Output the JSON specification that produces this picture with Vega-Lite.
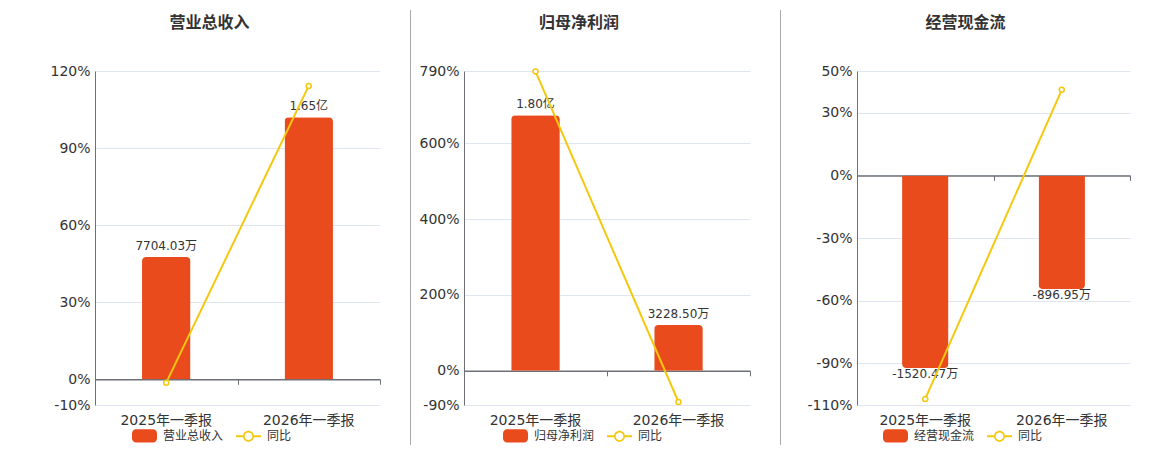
{
  "$schema": "https://vega.github.io/schema/vega-lite/v6.json",
  "background": "#ffffff",
  "padding": {"left": 0, "top": 9, "right": 0, "bottom": 0},
  "spacing": 0,
  "config": {
    "view": {"stroke": null},
    "font": "DejaVu Sans, Noto Sans CJK SC",
    "title": {"fontSize": 16, "fontWeight": "bold", "color": "#333333", "anchor": "middle", "dx": -28, "offset": 33, "font": "DejaVu Sans, Noto Sans CJK SC"},
    "axis": {"labelFont": "DejaVu Sans, Noto Sans CJK SC", "labelColor": "#333333", "titleColor": "#333333"},
    "legend": {"labelFont": "DejaVu Sans, Noto Sans CJK SC"}
  },
  "resolve": {"scale": {"color": "independent"}, "legend": {"color": "independent"}},
  "hconcat": [
    {
      "title": {"text": "营业总收入"},
      "width": 285,
      "height": 334,
      "data": {"values": [
        {"period": "2025年一季报", "value": 7704.03, "label": "7704.03万", "yoy": -1.3},
        {"period": "2026年一季报", "value": 16500, "label": "1.65亿", "yoy": 114.2}
      ]},
      "layer": [
        {
          "layer": [
            {
              "mark": {"type": "bar", "cornerRadiusEnd": 4, "width": {"band": 0.34}},
              "encoding": {
                "x": {"field": "period", "type": "nominal", "sort": null, "scale": {"paddingInner": 0, "paddingOuter": 0},
                  "axis": {"orient": "bottom", "title": null, "domain": false, "ticks": false, "grid": false, "labelAngle": 0, "labelFontSize": 14, "labelPadding": 8}},
                "y": {"field": "value", "type": "quantitative", "scale": {"domain": [-1618, 19416], "nice": false, "zero": false},
                  "axis": {"orient": "right", "title": null, "labels": false, "ticks": false, "domain": false, "grid": false, "minExtent": 30, "maxExtent": 30}},
                "color": {"datum": "营业总收入", "type": "nominal",
                  "scale": {"domain": ["营业总收入", "同比"], "range": ["#E94B1C", "#F4C80E"]},
                  "legend": {"title": null, "orient": "none", "legendX": 37, "legendY": 352, "direction": "horizontal", "padding": 0,
                    "symbolSize": 625, "labelFontSize": 12, "labelColor": "#333333", "labelOffset": 6, "columnPadding": 12,
                    "encode": {"symbols": {"update": {
                      "shape": {"signal": "datum.value === '同比' ? 'M-1,-0.08H-0.42V0.08H-1Z M0.42,-0.08H1V0.08H0.42Z M-0.44,0A0.44,0.44,0,1,1,0.44,0A0.44,0.44,0,1,1,-0.44,0Z M-0.31,0A0.31,0.31,0,1,0,0.31,0A0.31,0.31,0,1,0,-0.31,0Z' : 'M-0.68,-0.53H0.68A0.32,0.32,0,0,1,1,-0.21V0.21A0.32,0.32,0,0,1,0.68,0.53H-0.68A0.32,0.32,0,0,1,-1,0.21V-0.21A0.32,0.32,0,0,1,-0.68,-0.53Z'"},
                      "strokeWidth": {"value": 0},
                      "opacity": {"value": 1}
                    }}}}}
              }
            },
            {
              "mark": {"type": "text", "baseline": "bottom", "dy": -4, "fontSize": 12, "color": "#333333"},
              "encoding": {
                "x": {"field": "period", "type": "nominal", "sort": null},
                "y": {"field": "value", "type": "quantitative"},
                "text": {"field": "label"}
              }
            }
          ]
        },
        {
          "mark": {"type": "line", "strokeWidth": 2, "point": {"filled": false, "fill": "#ffffff", "size": 25, "strokeWidth": 1.5}},
          "encoding": {
            "x": {"field": "period", "type": "nominal", "sort": null,
              "axis": {"orient": "bottom", "title": null, "labels": false, "grid": false, "domain": true, "domainColor": "#6E7079", "domainWidth": 1.5, "ticks": true, "tickColor": "#6E7079", "tickSize": 5, "tickBand": "extent", "offset": -25.7}},
            "y": {"field": "yoy", "type": "quantitative", "scale": {"domain": [-10, 120], "nice": false, "zero": false},
              "axis": {"orient": "left", "title": null, "values": [-10, 0, 30, 60, 90, 120], "labelExpr": "datum.value + '%'", "grid": true, "gridColor": "#E0E6F1", "domain": true, "domainColor": "#6E7079", "ticks": false, "labelFontSize": 14, "labelPadding": 5, "minExtent": 95, "maxExtent": 95}},
            "color": {"datum": "同比", "type": "nominal"}
          }
        }
      ],
      "resolve": {"scale": {"y": "independent"}, "axis": {"x": "independent"}}
    },
    {
      "width": 1,
      "height": 334,
      "data": {"values": [{}]},
      "mark": {"type": "rule", "color": "#AAAAAA", "strokeWidth": 1},
      "encoding": {
        "x": {"datum": 0.5, "type": "quantitative", "scale": {"domain": [0, 1], "nice": false, "zero": false}, "axis": null},
        "y": {"datum": 1.1826, "type": "quantitative", "scale": {"domain": [0, 1], "nice": false, "zero": false}, "axis": null},
        "y2": {"datum": -0.1198}
      }
    },
    {
      "title": {"text": "归母净利润"},
      "width": 286,
      "height": 334,
      "data": {"values": [
        {"period": "2025年一季报", "value": 18000, "label": "1.80亿", "yoy": 789},
        {"period": "2026年一季报", "value": 3228.5, "label": "3228.50万", "yoy": -82.1}
      ]},
      "layer": [
        {
          "layer": [
            {
              "mark": {"type": "bar", "cornerRadiusEnd": 4, "width": {"band": 0.34}},
              "encoding": {
                "x": {"field": "period", "type": "nominal", "sort": null, "scale": {"paddingInner": 0, "paddingOuter": 0},
                  "axis": {"orient": "bottom", "title": null, "domain": false, "ticks": false, "grid": false, "labelAngle": 0, "labelFontSize": 14, "labelPadding": 8}},
                "y": {"field": "value", "type": "quantitative", "scale": {"domain": [-2405, 21107], "nice": false, "zero": false},
                  "axis": {"orient": "right", "title": null, "labels": false, "ticks": false, "domain": false, "grid": false, "minExtent": 30, "maxExtent": 30}},
                "color": {"datum": "归母净利润", "type": "nominal",
                  "scale": {"domain": ["归母净利润", "同比"], "range": ["#E94B1C", "#F4C80E"]},
                  "legend": {"title": null, "orient": "none", "legendX": 39, "legendY": 352, "direction": "horizontal", "padding": 0,
                    "symbolSize": 625, "labelFontSize": 12, "labelColor": "#333333", "labelOffset": 6, "columnPadding": 12,
                    "encode": {"symbols": {"update": {
                      "shape": {"signal": "datum.value === '同比' ? 'M-1,-0.08H-0.42V0.08H-1Z M0.42,-0.08H1V0.08H0.42Z M-0.44,0A0.44,0.44,0,1,1,0.44,0A0.44,0.44,0,1,1,-0.44,0Z M-0.31,0A0.31,0.31,0,1,0,0.31,0A0.31,0.31,0,1,0,-0.31,0Z' : 'M-0.68,-0.53H0.68A0.32,0.32,0,0,1,1,-0.21V0.21A0.32,0.32,0,0,1,0.68,0.53H-0.68A0.32,0.32,0,0,1,-1,0.21V-0.21A0.32,0.32,0,0,1,-0.68,-0.53Z'"},
                      "strokeWidth": {"value": 0},
                      "opacity": {"value": 1}
                    }}}}}
              }
            },
            {
              "mark": {"type": "text", "baseline": "bottom", "dy": -4, "fontSize": 12, "color": "#333333"},
              "encoding": {
                "x": {"field": "period", "type": "nominal", "sort": null},
                "y": {"field": "value", "type": "quantitative"},
                "text": {"field": "label"}
              }
            }
          ]
        },
        {
          "mark": {"type": "line", "strokeWidth": 2, "point": {"filled": false, "fill": "#ffffff", "size": 25, "strokeWidth": 1.5}},
          "encoding": {
            "x": {"field": "period", "type": "nominal", "sort": null,
              "axis": {"orient": "bottom", "title": null, "labels": false, "grid": false, "domain": true, "domainColor": "#6E7079", "domainWidth": 1.5, "ticks": true, "tickColor": "#6E7079", "tickSize": 5, "tickBand": "extent", "offset": -34.2}},
            "y": {"field": "yoy", "type": "quantitative", "scale": {"domain": [-90, 790], "nice": false, "zero": false},
              "axis": {"orient": "left", "title": null, "values": [-90, 0, 200, 400, 600, 790], "labelExpr": "datum.value + '%'", "grid": true, "gridColor": "#E0E6F1", "domain": true, "domainColor": "#6E7079", "ticks": false, "labelFontSize": 14, "labelPadding": 5, "minExtent": 53, "maxExtent": 53}},
            "color": {"datum": "同比", "type": "nominal"}
          }
        }
      ],
      "resolve": {"scale": {"y": "independent"}, "axis": {"x": "independent"}}
    },
    {
      "width": 1,
      "height": 334,
      "data": {"values": [{}]},
      "mark": {"type": "rule", "color": "#AAAAAA", "strokeWidth": 1},
      "encoding": {
        "x": {"datum": 0.5, "type": "quantitative", "scale": {"domain": [0, 1], "nice": false, "zero": false}, "axis": null},
        "y": {"datum": 1.1826, "type": "quantitative", "scale": {"domain": [0, 1], "nice": false, "zero": false}, "axis": null},
        "y2": {"datum": -0.1198}
      }
    },
    {
      "title": {"text": "经营现金流"},
      "width": 273,
      "height": 334,
      "data": {"values": [
        {"period": "2025年一季报", "value": -1520.47, "label": "-1520.47万", "yoy": -107.1},
        {"period": "2026年一季报", "value": -896.95, "label": "-896.95万", "yoy": 41.0}
      ]},
      "layer": [
        {
          "layer": [
            {
              "mark": {"type": "bar", "cornerRadiusBottomLeft": 4, "cornerRadiusBottomRight": 4, "width": {"band": 0.34}},
              "encoding": {
                "x": {"field": "period", "type": "nominal", "sort": null, "scale": {"paddingInner": 0, "paddingOuter": 0},
                  "axis": {"orient": "bottom", "title": null, "domain": false, "ticks": false, "grid": false, "labelAngle": 0, "labelFontSize": 14, "labelPadding": 8}},
                "y": {"field": "value", "type": "quantitative", "scale": {"domain": [-1813.6, 824.4], "nice": false, "zero": false}, "axis": null},
                "color": {"datum": "经营现金流", "type": "nominal",
                  "scale": {"domain": ["经营现金流", "同比"], "range": ["#E94B1C", "#F4C80E"]},
                  "legend": {"title": null, "orient": "none", "legendX": 26, "legendY": 352, "direction": "horizontal", "padding": 0,
                    "symbolSize": 625, "labelFontSize": 12, "labelColor": "#333333", "labelOffset": 6, "columnPadding": 12,
                    "encode": {"symbols": {"update": {
                      "shape": {"signal": "datum.value === '同比' ? 'M-1,-0.08H-0.42V0.08H-1Z M0.42,-0.08H1V0.08H0.42Z M-0.44,0A0.44,0.44,0,1,1,0.44,0A0.44,0.44,0,1,1,-0.44,0Z M-0.31,0A0.31,0.31,0,1,0,0.31,0A0.31,0.31,0,1,0,-0.31,0Z' : 'M-0.68,-0.53H0.68A0.32,0.32,0,0,1,1,-0.21V0.21A0.32,0.32,0,0,1,0.68,0.53H-0.68A0.32,0.32,0,0,1,-1,0.21V-0.21A0.32,0.32,0,0,1,-0.68,-0.53Z'"},
                      "strokeWidth": {"value": 0},
                      "opacity": {"value": 1}
                    }}}}}
              }
            },
            {
              "mark": {"type": "text", "baseline": "top", "dy": 1, "fontSize": 12, "color": "#333333"},
              "encoding": {
                "x": {"field": "period", "type": "nominal", "sort": null},
                "y": {"field": "value", "type": "quantitative"},
                "text": {"field": "label"}
              }
            }
          ]
        },
        {
          "mark": {"type": "line", "strokeWidth": 2, "point": {"filled": false, "fill": "#ffffff", "size": 25, "strokeWidth": 1.5}},
          "encoding": {
            "x": {"field": "period", "type": "nominal", "sort": null,
              "axis": {"orient": "bottom", "title": null, "labels": false, "grid": false, "domain": true, "domainColor": "#6E7079", "domainWidth": 1.5, "ticks": true, "tickColor": "#6E7079", "tickSize": 5, "tickBand": "extent", "offset": -229.6}},
            "y": {"field": "yoy", "type": "quantitative", "scale": {"domain": [-110, 50], "nice": false, "zero": false},
              "axis": {"orient": "left", "title": null, "values": [-110, -90, -60, -30, 0, 30, 50], "labelExpr": "datum.value + '%'", "grid": true, "gridColor": "#E0E6F1", "domain": true, "domainColor": "#6E7079", "ticks": false, "labelFontSize": 14, "labelPadding": 5, "minExtent": 76, "maxExtent": 76}},
            "color": {"datum": "同比", "type": "nominal"}
          }
        }
      ],
      "resolve": {"scale": {"y": "independent"}, "axis": {"x": "independent"}}
    }
  ]
}
